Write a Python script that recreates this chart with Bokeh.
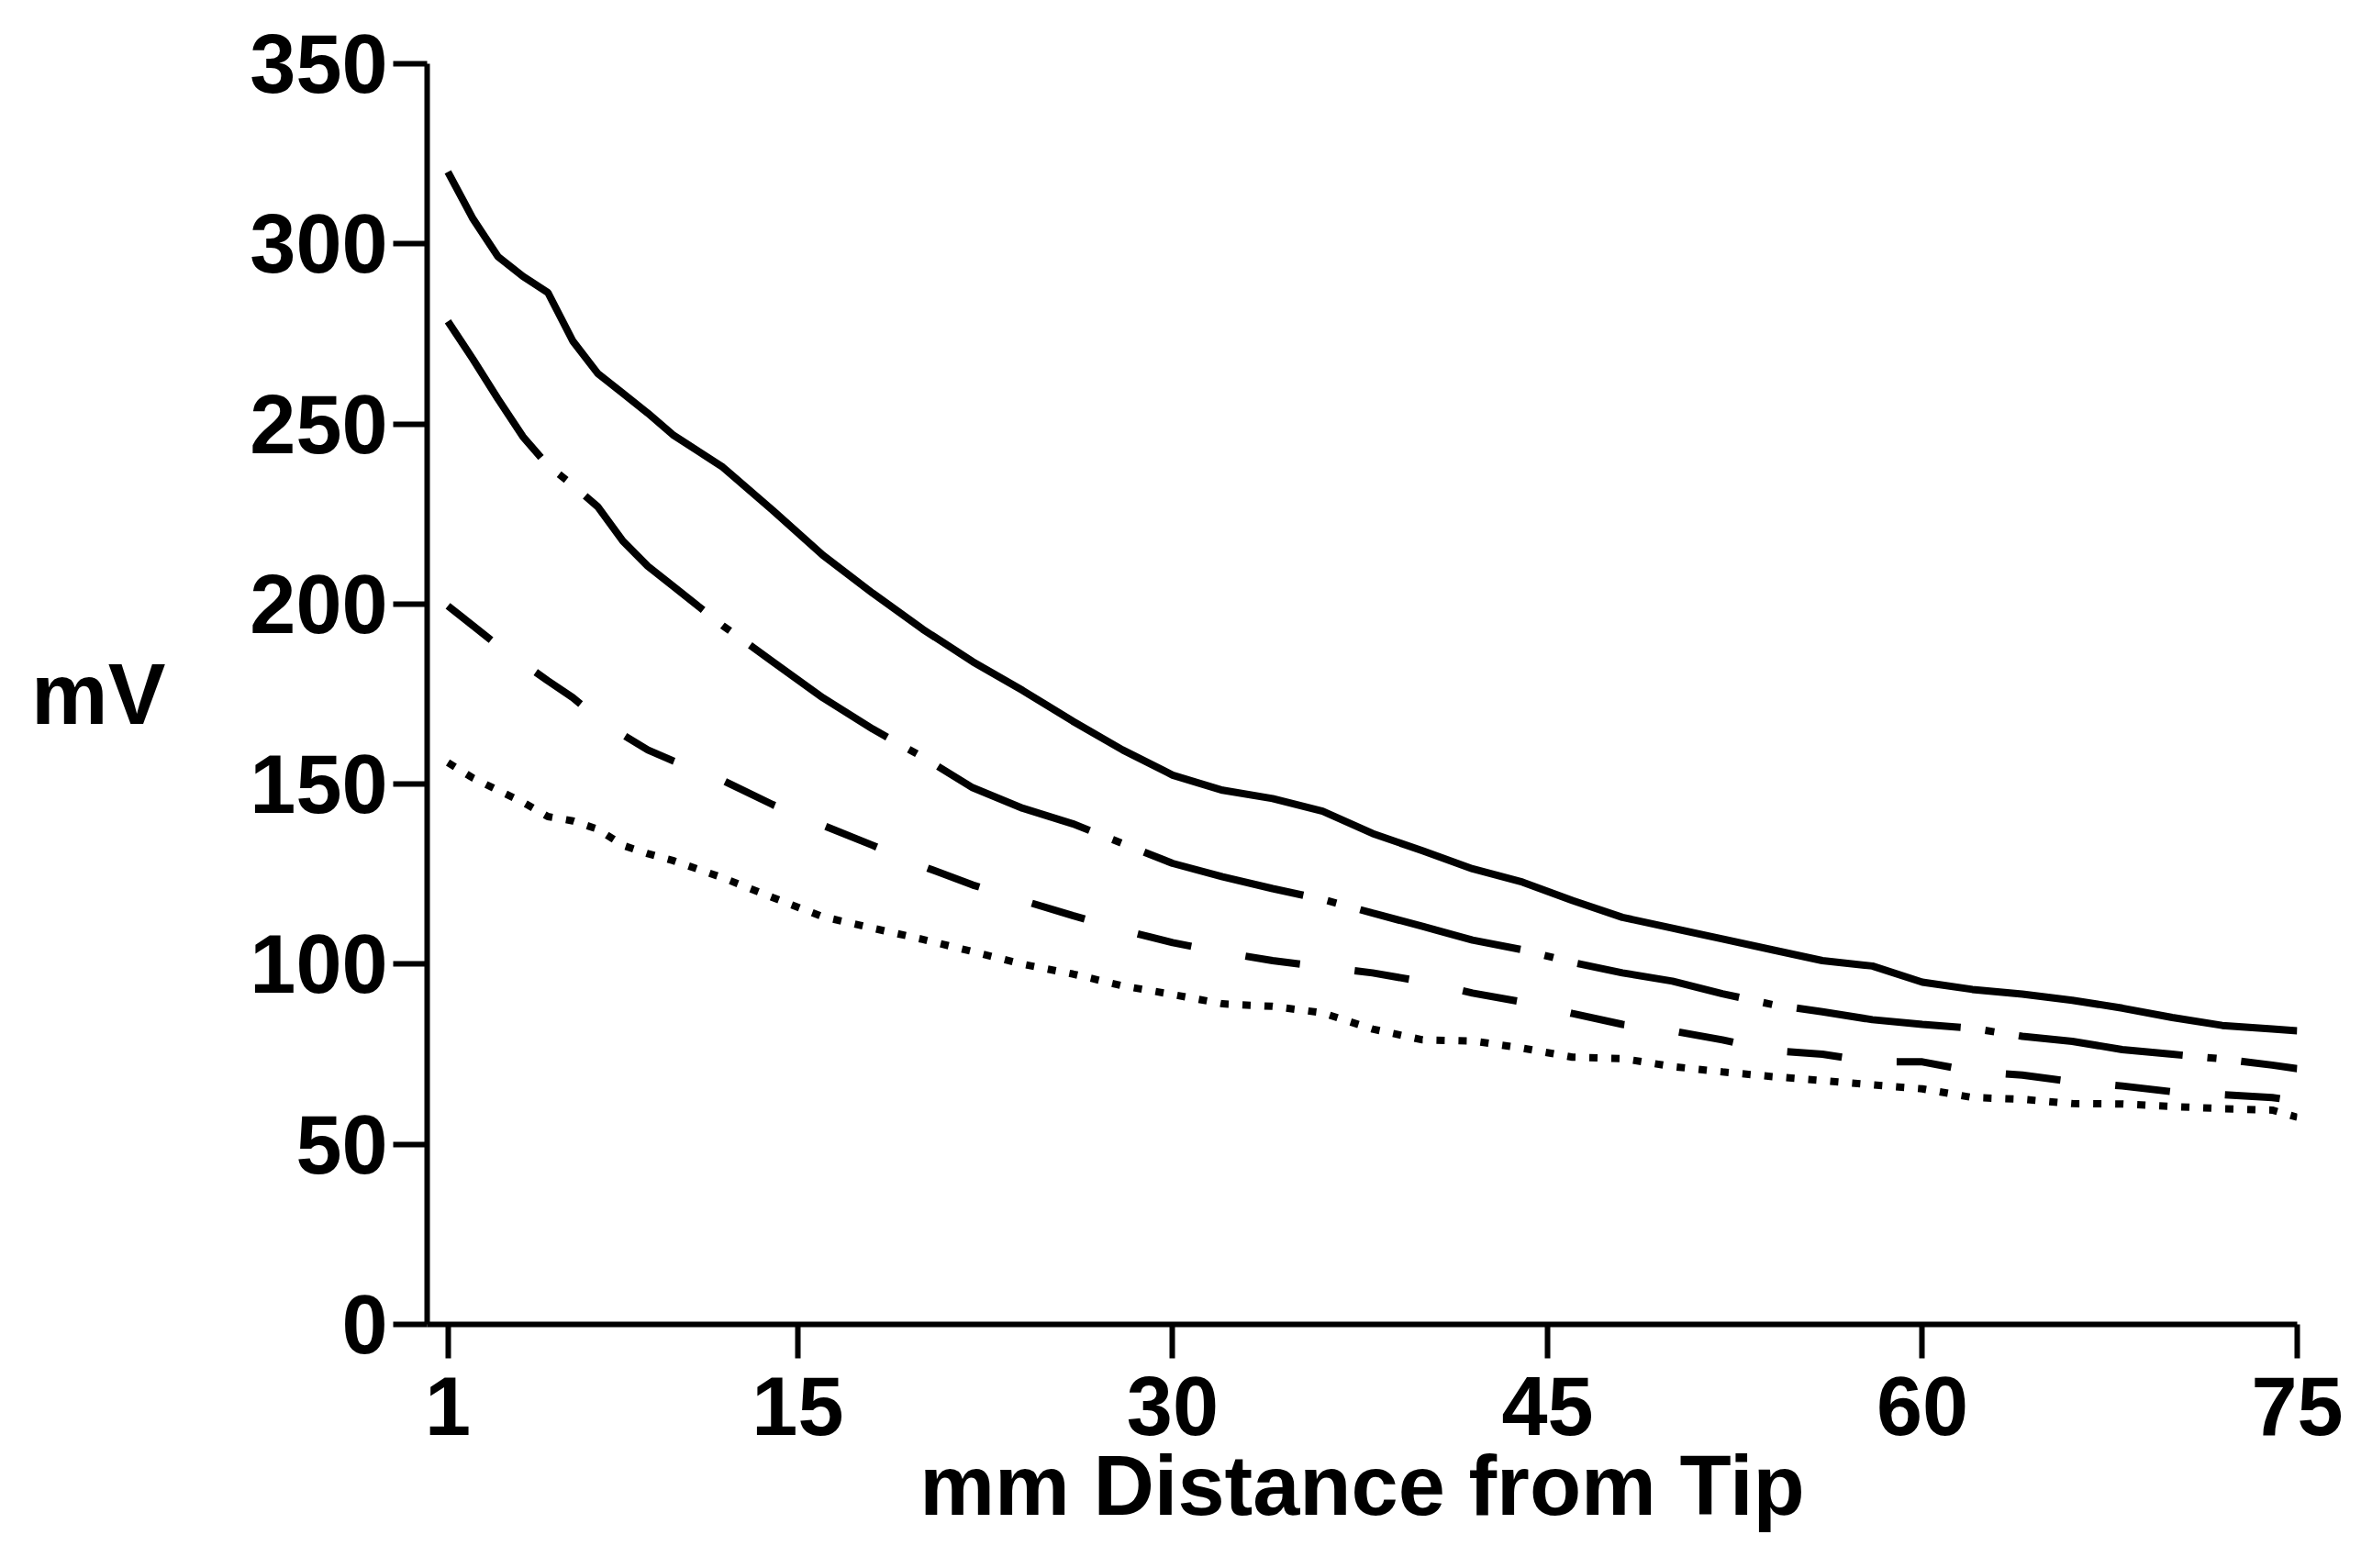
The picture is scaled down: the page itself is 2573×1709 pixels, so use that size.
from bokeh.plotting import figure
from bokeh.models import Range1d, FixedTicker
from bokeh.embed import file_html
from bokeh.resources import INLINE

# distance from tip (mm)
x_mm = [1, 2, 3, 4, 5, 6, 7, 8, 9, 10, 12, 14, 16, 18, 20, 22, 24, 26, 28, 30,
        32, 34, 36, 38, 40, 42, 44, 46, 48, 50, 52, 54, 56, 58, 60, 62, 64, 66,
        68, 70, 72, 74, 75]

# series (mV)
solid_mv = [320, 307, 296.5, 291, 286.5, 273, 264, 258.5, 253, 247, 238, 226,
            213.6, 203, 193, 184, 176, 167.5, 159.5, 152.5, 148.3, 146, 142.5,
            136.3, 131.5, 126.5, 122.8, 117.7, 113, 110, 107, 104, 101, 99.5,
            95, 93, 91.7, 90, 87.8, 85.2, 83, 82, 81.5]
dashdot_mv = [278.5, 268, 257, 246.5, 238.5, 233, 227, 217.5, 210.5, 205, 194,
              184, 174, 165.3, 157.5, 149, 143.3, 139, 133.5, 128, 124.3, 121,
              118, 114.2, 110.5, 106.7, 104, 100.5, 97.6, 95.3, 91.8, 88.8,
              86.8, 84.6, 83.3, 82.2, 80, 78.6, 76.3, 75, 73.7, 72, 71]
dashed_mv = [199.5, 194, 188.5, 183.6, 178.7, 174, 168.3, 163.7, 159.5, 156.5,
             151, 144.3, 138.6, 133, 127.2, 122, 117.7, 113.5, 109.5, 106,
             103.3, 101, 99.3, 97.6, 95.2, 92, 89.5, 86.3, 83.3, 81.5, 79, 76,
             75, 72.9, 72.9, 70.3, 69.2, 67.4, 66.2, 64.6, 63.8, 63, 62]
dotted_mv = [156, 151.7, 148.3, 145, 141, 139.8, 137.5, 133, 130.7, 128.8, 124,
             118.5, 113.2, 110, 106.9, 103.5, 100, 97.3, 94, 91.6, 89, 88.3,
             86.5, 82, 79, 78.7, 76.7, 74.2, 73.8, 71.6, 70.1, 68.8, 67.7, 66.5,
             65.4, 63, 62.5, 61.3, 61.2, 60.5, 59.9, 59.5, 57.5]

x_ticks = [1, 15, 30, 45, 60, 75]
y_ticks = [0, 50, 100, 150, 200, 250, 300, 350]

p = figure(width=2557, height=1693, output_backend="svg", toolbar_location=None,
           x_range=Range1d(0.17, 75), y_range=Range1d(0, 350),
           min_border_left=465, min_border_right=54, min_border_top=69,
           min_border_bottom=250)
p.background_fill_color = "white"
p.border_fill_color = "white"
p.outline_line_color = None
p.xgrid.visible = False
p.ygrid.visible = False

LW = 8
p.line(x_mm, solid_mv, line_color="black", line_width=LW)
p.line(x_mm, dashdot_mv, line_color="black", line_width=LW, line_dash="180 27 10 27")
p.line(x_mm, dashed_mv, line_color="black", line_width=LW, line_dash="60 60")
p.line(x_mm, dotted_mv, line_color="black", line_width=LW, line_dash="9 15")

for ax in (p.xaxis[0], p.yaxis[0]):
    ax.axis_line_width = 6
    ax.axis_line_color = "black"
    ax.major_tick_line_width = 6
    ax.major_tick_line_color = "black"
    ax.major_tick_out = 37
    ax.major_tick_in = 0
    ax.minor_tick_out = 0
    ax.minor_tick_in = 0
    ax.major_label_text_font = "Liberation Sans"
    ax.major_label_text_font_style = "bold"
    ax.major_label_text_font_size = "90px"
    ax.major_label_text_color = "black"
    ax.axis_label_text_font = "Liberation Sans"
    ax.axis_label_text_font_style = "bold"
    ax.axis_label_text_color = "black"

p.xaxis.ticker = FixedTicker(ticks=x_ticks)
p.yaxis.ticker = FixedTicker(ticks=y_ticks)
p.xaxis.major_label_standoff = 20
p.yaxis.major_label_standoff = 6

p.xaxis.axis_label = "mm Distance from Tip"
p.xaxis.axis_label_text_font_size = "92px"
p.xaxis.axis_label_standoff = 1

p.yaxis.axis_label = "mV"
p.yaxis.axis_label_text_font_size = "94px"
p.yaxis.axis_label_orientation = "horizontal"
p.yaxis.axis_label_standoff = 89

open("out.html", "w").write(file_html(p, INLINE))
